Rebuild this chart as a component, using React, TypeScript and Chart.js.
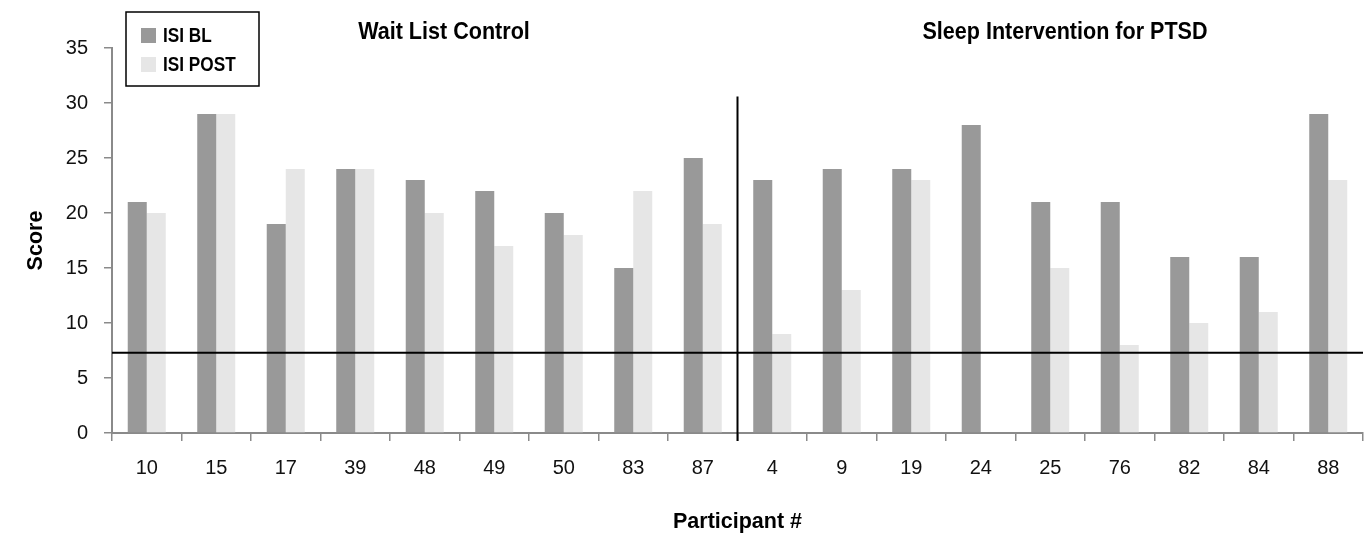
import React, { useEffect, useRef } from "react";
import { Chart, registerables } from "chart.js";

Chart.register(...registerables);

const participants = ["10", "15", "17", "39", "48", "49", "50", "83", "87", "4", "9", "19", "24", "25", "76", "82", "84", "88"];
const isiBaseline = [21, 29, 19, 24, 23, 22, 20, 15, 25, 23, 24, 24, 28, 21, 21, 16, 16, 29];
const isiPost = [20, 29, 24, 24, 20, 17, 18, 22, 19, 9, 13, 23, 0, 15, 8, 10, 11, 23];
const seriesNames = ["ISI BL", "ISI POST"];
const groupTitles = ["Wait List Control", "Sleep Intervention for PTSD"];
const cutoffScore = 7.3;
const dividerIndex = 8.5;
const dividerTop = 30.6;
const yTicks = { min: 0, max: 35, step: 5 };

const FONT = '"Liberation Sans", Arial, sans-serif';
const BL_COLOR = "#999999";
const POST_COLOR = "#e6e6e6";
const AXIS_COLOR = "#8a8a8a";

function narrowText(ctx: any, text: string, x: number, y: number, k: number, align: string) {
  ctx.save();
  ctx.translate(x, y);
  ctx.scale(k, 1);
  ctx.textAlign = align;
  ctx.fillText(text, 0, 0);
  ctx.restore();
}

const overlayPlugin = {
  id: "overlay",
  afterDatasetsDraw(chart: any) {
    const { ctx, chartArea, scales } = chart;
    const x = scales.x;
    const y = scales.y;
    ctx.save();
    ctx.strokeStyle = "#000";
    ctx.lineWidth = 2;
    const yc = y.getPixelForValue(cutoffScore);
    ctx.beginPath();
    ctx.moveTo(chartArea.left, yc);
    ctx.lineTo(chartArea.right, yc);
    ctx.stroke();
    const xd = x.getPixelForValue(dividerIndex);
    ctx.beginPath();
    ctx.moveTo(xd, y.getPixelForValue(dividerTop));
    ctx.lineTo(xd, chartArea.bottom + 8);
    ctx.stroke();
    ctx.restore();
  },
  afterDraw(chart: any) {
    const { ctx, chartArea } = chart;
    ctx.save();
    ctx.fillStyle = "#000";
    ctx.textBaseline = "middle";
    // group titles
    ctx.font = `bold 24.5px ${FONT}`;
    narrowText(ctx, groupTitles[0], 444, 32, 0.88, "center");
    narrowText(ctx, groupTitles[1], 1065, 32, 0.88, "center");
    // axis titles
    ctx.font = `bold 21.5px ${FONT}`;
    narrowText(ctx, "Participant #", (chartArea.left + chartArea.right) / 2, 522, 1, "center");
    ctx.save();
    ctx.translate(36, (chartArea.top + chartArea.bottom) / 2);
    ctx.rotate(-Math.PI / 2);
    ctx.textAlign = "center";
    ctx.fillText("Score", 0, 0);
    ctx.restore();
    // legend
    ctx.fillStyle = "#fff";
    ctx.fillRect(126, 12, 133, 74);
    ctx.strokeStyle = "#000";
    ctx.lineWidth = 1.5;
    ctx.strokeRect(126, 12, 133, 74);
    const colors = [BL_COLOR, POST_COLOR];
    ctx.font = `bold 20.5px ${FONT}`;
    seriesNames.forEach((name, i) => {
      const cy = 35.5 + i * 29;
      ctx.fillStyle = colors[i];
      ctx.fillRect(141, cy - 7.5, 15, 15);
      ctx.fillStyle = "#000";
      narrowText(ctx, name, 163, cy + 1, 0.84, "left");
    });
    ctx.restore();
  },
};

export default function App() {
  const canvasRef = useRef<HTMLCanvasElement | null>(null);

  useEffect(() => {
    if (!canvasRef.current) return;
    Chart.defaults.font.family = FONT;
    const chart = new Chart(canvasRef.current, {
      type: "bar",
      data: {
        labels: participants,
        datasets: [
          { label: seriesNames[0], data: isiBaseline, backgroundColor: BL_COLOR, borderWidth: 0 },
          { label: seriesNames[1], data: isiPost, backgroundColor: POST_COLOR, borderWidth: 0 },
        ],
      },
      options: {
        animation: false,
        responsive: true,
        maintainAspectRatio: false,
        layout: { padding: { left: 0, right: 6, top: 48, bottom: 0 } },
        plugins: { legend: { display: false }, tooltip: { enabled: false }, title: { display: false } },
        datasets: { bar: { categoryPercentage: 0.547, barPercentage: 1 } },
        scales: {
          x: {
            offset: true,
            grid: { offset: true, drawOnChartArea: false, tickLength: 8, color: AXIS_COLOR, lineWidth: 1.5 },
            border: { display: true, color: AXIS_COLOR, width: 2 },
            ticks: { color: "#111", font: { size: 20, family: FONT }, padding: 15, maxRotation: 0, autoSkip: false },
            afterFit(scale: any) {
              scale.height = 105;
            },
          },
          y: {
            min: yTicks.min,
            max: yTicks.max,
            grid: { drawOnChartArea: false, tickLength: 8, color: AXIS_COLOR, lineWidth: 1.5 },
            border: { display: true, color: AXIS_COLOR, width: 2 },
            ticks: { stepSize: yTicks.step, color: "#111", font: { size: 20, family: FONT }, padding: 16 },
            afterFit(scale: any) {
              scale.width = 112;
            },
          },
        },
      },
      plugins: [overlayPlugin],
    });
    return () => chart.destroy();
  }, []);

  return (
    <div style={{ position: "fixed", left: 0, top: 0, width: 1369, height: 538, background: "#fff" }}>
      <canvas ref={canvasRef} />
    </div>
  );
}
